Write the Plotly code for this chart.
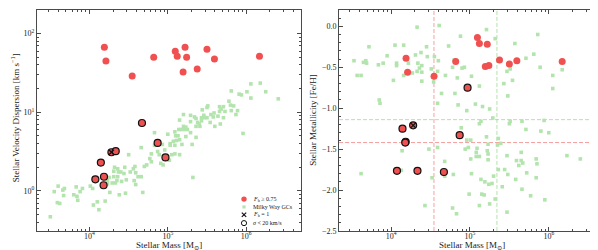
import numpy as np
import plotly.graph_objects as go

# ---------------- DATA ----------------
# Milky Way GCs: stellar mass vs velocity dispersion (log10 values)
gc_sig_logM = [5.81, 6.01, 6.18, 6.06, 6.25, 6.41, 5.91, 5.94, 6.06, 5.78, 5.80, 5.84, 5.89, 5.87, 5.81,
               5.71, 5.66, 5.68, 5.66, 5.73, 5.64, 5.71, 5.67, 5.60, 5.96, 5.59, 5.51, 5.50, 5.44, 5.55,
               5.58, 5.54, 5.50, 5.46, 5.47, 5.43, 5.43, 5.36, 5.38, 5.40, 5.41, 5.36, 5.34, 5.29, 5.20,
               5.29, 5.15, 5.20, 5.23, 5.25, 5.21, 5.29, 5.17, 5.14, 5.09, 5.10, 5.13, 5.23, 5.36, 5.11,
               5.15, 5.07, 5.03, 5.18, 5.31, 5.09, 4.83, 5.00, 4.66, 4.83, 4.93, 4.96, 5.03, 4.79, 4.87,
               4.89, 4.98, 5.05, 5.09, 5.15, 5.02, 4.91, 4.94, 4.77, 4.79, 4.50, 4.73, 4.70, 4.58, 4.56,
               4.45, 4.36, 4.37, 4.32, 4.31, 4.31, 4.36, 4.40, 4.44, 4.52, 4.59, 4.62, 4.57, 4.66, 4.59,
               4.47, 4.41, 4.35, 4.23, 4.23, 4.46, 4.38, 4.68, 4.26, 4.20, 4.10, 4.05, 4.12, 4.04, 4.01,
               3.91, 3.88, 3.83, 3.84, 3.85, 3.80, 3.68, 3.66, 3.60, 3.55, 3.59, 3.62, 3.50, 5.32, 3.67,
               4.25, 4.29, 4.33]
gc_log_sigma = [1.27, 1.26, 1.37, 1.36, 1.26, 1.17, 1.23, 1.22, 1.18, 1.14, 1.09, 1.08, 1.02, 0.97, 1.02,
                1.07, 1.07, 1.04, 1.01, 1.01, 0.95, 0.93, 0.85, 0.82, 0.73, 0.99, 1.08, 1.06, 1.03, 0.97,
                0.94, 0.87, 0.93, 0.96, 0.93, 0.93, 0.89, 0.92, 0.87, 0.85, 0.82, 0.82, 0.94, 0.96, 0.97,
                0.88, 0.90, 0.82, 0.81, 0.78, 0.78, 0.74, 0.78, 0.78, 0.75, 0.70, 0.70, 0.69, 0.68, 0.64,
                0.65, 0.63, 0.60, 0.59, 0.59, 0.58, 0.74, 0.72, 0.55, 0.58, 0.59, 0.52, 0.58, 0.47, 0.50,
                0.46, 0.44, 0.46, 0.47, 0.46, 0.39, 0.35, 0.33, 0.41, 0.37, 0.46, 0.33, 0.31, 0.31, 0.28,
                0.30, 0.28, 0.24, 0.30, 0.25, 0.18, 0.18, 0.24, 0.22, 0.24, 0.23, 0.18, 0.13, 0.18, 0.08,
                0.14, 0.12, 0.13, 0.13, 0.09, -0.03, -0.05, -0.02, -0.02, -0.13, -0.14, -0.18, -0.24, 0.03, 0.06,
                0.03, -0.01, 0.05, -0.07, -0.12, -0.05, 0.03, 0.01, 0.06, -0.01, -0.15, -0.16, -0.33, 0.17, -0.06,
                0.17, 0.10, 0.10]

# Milky Way GCs: stellar mass vs metallicity
gc_feh_logM = [3.53, 3.57, 3.62, 3.65, 3.68, 3.69, 3.72, 3.84, 3.90, 3.95, 4.03, 4.05, 4.07, 4.07, 3.85,
               3.86, 4.16, 4.16, 4.22, 4.27, 4.31, 4.33, 4.34, 4.36, 4.38, 4.39, 4.33, 4.39, 4.39, 4.45,
               4.46, 4.51, 4.54, 4.55, 4.60, 4.59, 4.61, 4.64, 4.59, 4.69, 4.73, 4.78, 4.80, 4.81, 4.84,
               4.85, 4.88, 4.90, 4.93, 4.96, 5.02, 5.21, 5.32, 5.57, 5.86, 5.71, 5.81, 5.51, 5.47, 5.54,
               5.43, 5.12, 5.48, 5.89, 6.05, 6.17, 6.05, 5.07, 5.16, 5.25, 5.29, 5.14, 5.12, 5.51, 5.50,
               5.66, 5.94, 4.89, 3.62, 4.14, 4.13, 4.43, 4.48, 4.52, 4.59, 4.68, 4.68, 4.79, 4.78, 4.83,
               4.96, 5.01, 4.94, 4.98, 5.01, 5.02, 4.99, 5.71, 5.90, 6.00, 5.21, 5.23, 5.36, 5.35, 5.39,
               5.09, 5.08, 5.08, 5.12, 5.22, 5.23, 5.23, 5.47, 5.59, 5.62, 5.65, 5.65, 5.67, 5.84, 5.85,
               6.23, 6.40, 5.36, 5.44, 5.48, 5.72, 5.84, 5.14, 5.19, 5.24, 5.28, 5.30, 5.41, 5.58, 5.66,
               5.77, 5.95, 5.32, 5.15, 5.18, 5.12, 5.25, 5.47]
gc_feh = [-0.42, -0.60, -0.60, -0.44, -0.42, -0.45, -0.25, -0.47, -0.45, -0.36, -0.66, -0.23, -0.45, -0.48, -0.90,
          -0.94, -0.23, -0.60, -0.45, -0.57, -0.35, -0.01, -0.45, -0.51, -0.32, -0.48, -0.55, -0.56, -0.67, -0.25,
          -0.37, -0.52, -0.68, -0.37, -0.42, -0.55, 0.01, -0.82, -0.94, -0.60, -0.24, -0.50, -0.41, -0.82, -0.63,
          -0.96, -0.12, -0.51, -0.50, -1.03, -0.61, -0.04, -0.15, -0.21, -0.10, -0.39, -0.34, -0.52, -0.55, -0.66,
          -0.70, -0.73, -0.85, -0.50, -0.60, -0.53, -0.76, -0.95, -0.98, -1.01, -1.12, -1.16, -1.19, -1.16, -1.19,
          -1.16, -1.15, -1.24, -1.80, -1.52, -1.76, -2.19, -1.50, -1.85, -1.48, -1.65, -1.83, -1.81, -2.22, -2.29,
          -1.39, -1.39, -1.50, -1.48, -1.62, -1.80, -2.05, -1.26, -1.28, -1.30, -1.35, -1.44, -1.37, -1.45, -1.43,
          -1.49, -1.54, -1.59, -1.59, -1.52, -1.56, -1.63, -1.58, -1.64, -1.70, -1.64, -1.54, -1.67, -1.62, -1.68,
          -1.58, -1.62, -1.75, -1.75, -1.81, -1.79, -1.85, -1.87, -1.90, -1.93, -1.92, -1.83, -1.96, -1.87, -1.99,
          -2.07, -2.12, -2.11, -2.05, -2.06, -2.19, -2.17, -2.27]

# Systems with F_b >= 0.75 (sigma >= 20 km/s)
fb_logM = [4.19, 4.21, 4.545, 4.82, 5.095, 5.12, 5.195, 5.22, 5.24, 5.375, 5.50, 5.595, 6.17]
fb_log_sigma = [1.825, 1.65, 1.46, 1.70, 1.775, 1.71, 1.51, 1.825, 1.70, 1.55, 1.80, 1.675, 1.71]
fb_feh = [-0.39, -0.56, -0.61, -0.43, -0.135, -0.21, -0.49, -0.22, -0.48, -0.41, -0.46, -0.42, -0.43]

# Systems with F_b >= 0.75 and sigma < 20 km/s (outlined); F_b = 1 flag
low_logM = [4.67, 4.87, 4.97, 4.145, 4.28, 4.335, 4.075, 4.185, 4.18]
low_log_sigma = [0.8625, 0.609, 0.425, 0.359, 0.491, 0.504, 0.146, 0.179, 0.071]
low_feh = [-1.78, -1.33, -0.75, -1.25, -1.21, -1.765, -1.765, -1.41, -1.42]
low_fb_is_1 = [False, False, False, False, True, False, False, False, False]

# Reference (median) lines in the metallicity panel
ref_mass_red, ref_mass_green = 3.5e4, 2.2e5
ref_feh_red, ref_feh_green = -1.42, -1.14

# Tick labels
x_tickvals = [1e4, 1e5, 1e6]
x_ticktext = ["10<sup>4</sup>", "10<sup>5</sup>", "10<sup>6</sup>"]
y1_tickvals = [1, 10, 100]
y1_ticktext = ["10<sup>0</sup>", "10<sup>1</sup>", "10<sup>2</sup>"]

legend_labels = ["<i>F</i><sub>b</sub> ≥ 0.75", "Milky Way GCs", "<i>F</i><sub>b</sub> = 1",
                 "<i>σ</i> &lt; 20 km/s"]

# ---------------- FIGURE ----------------
W, H = 598, 250
def px(x):
    return x / W
def py(y):
    return 1 - y / H

FONT = "Liberation Serif, DejaVu Serif, serif"
RED = "#f05050"
GREEN = "#b3e4ad"
AX = "#4a4a4a"
TXT = "#1a1a1a"

p = lambda a: 10 ** np.array(a, dtype=float)

fig = go.Figure()

GC_MARK = dict(symbol="square", size=3.6, color=GREEN, line=dict(width=0))
RED_MARK = dict(symbol="circle", size=7, color=RED, line=dict(width=0))
LOW_MARK = dict(symbol="circle", size=7, color=RED, line=dict(width=1.2, color="#111"))
X_MARK = dict(symbol="x-thin", size=5, line=dict(width=1.3, color="#111"))

xm = [m for m, f in zip(low_logM, low_fb_is_1) if f]
xs = [s for s, f in zip(low_log_sigma, low_fb_is_1) if f]
xf = [s for s, f in zip(low_feh, low_fb_is_1) if f]

# ---- left panel ----
for xx, yy, mk in [(gc_sig_logM, gc_log_sigma, GC_MARK), (fb_logM, fb_log_sigma, RED_MARK),
                   (low_logM, low_log_sigma, LOW_MARK), (xm, xs, X_MARK)]:
    fig.add_trace(go.Scatter(x=p(xx), y=p(yy), mode="markers", marker=mk,
                             xaxis="x", yaxis="y", showlegend=False, hoverinfo="skip"))
# ---- right panel ----
for xx, yy, mk in [(gc_feh_logM, gc_feh, GC_MARK), (fb_logM, fb_feh, RED_MARK),
                   (low_logM, low_feh, LOW_MARK), (xm, xf, X_MARK)]:
    fig.add_trace(go.Scatter(x=p(xx), y=yy, mode="markers", marker=mk,
                             xaxis="x2", yaxis="y2", showlegend=False, hoverinfo="skip"))

minor_log_x = [k * 10 ** d for d in range(3, 7) for k in range(2, 10)]
minor_log_y = [k * 10 ** d for d in range(-1, 3) for k in range(2, 10)]

def ax(**kw):
    d = dict(showline=True, linecolor=AX, linewidth=1, mirror="allticks", ticks="inside",
             ticklen=4, tickwidth=0.8, tickcolor=AX, showgrid=False, zeroline=False,
             tickfont=dict(family=FONT, size=8, color=TXT))
    d.update(kw)
    return d

minor_log = lambda vals: dict(ticks="inside", ticklen=2, tickwidth=0.6, tickcolor=AX,
                              tickvals=vals, showgrid=False)

ybot, ytop = py(227.5), py(2)
fig.update_layout(
    width=W, height=H, margin=dict(l=0, r=0, t=0, b=0),
    paper_bgcolor="white", plot_bgcolor="white", showlegend=False,
    xaxis=ax(type="log", range=[3.33, 6.70], domain=[px(29), px(293)], anchor="y",
             tickvals=x_tickvals, ticktext=x_ticktext, minor=minor_log(minor_log_x),
             ticklabelstandoff=-3),
    yaxis=ax(type="log", range=[-0.51, 2.30], domain=[ybot, ytop], anchor="x",
             tickvals=y1_tickvals, ticktext=y1_ticktext, minor=minor_log(minor_log_y)),
    xaxis2=ax(type="log", range=[3.34, 6.70], domain=[px(331), px(596)], anchor="y2",
              tickvals=x_tickvals, ticktext=x_ticktext, minor=minor_log(minor_log_x),
              ticklabelstandoff=-3),
    yaxis2=ax(range=[-2.5, 0.2], domain=[ybot, ytop], anchor="x2", dtick=0.5, tick0=0,
              tickformat=".1f",
              minor=dict(ticks="inside", ticklen=2, tickwidth=0.6, tickcolor=AX, dtick=0.1,
                         showgrid=False)),
)

# reference dashed lines
dash = "4px,2px"
fig.add_shape(type="line", xref="x2", yref="y2 domain", x0=ref_mass_red, x1=ref_mass_red, y0=0, y1=1,
              line=dict(color="rgba(240,80,80,0.55)", width=1, dash=dash), layer="below")
fig.add_shape(type="line", xref="x2", yref="y2 domain", x0=ref_mass_green, x1=ref_mass_green, y0=0, y1=1,
              line=dict(color="rgba(150,215,140,0.7)", width=1, dash=dash), layer="below")
fig.add_shape(type="line", xref="x2 domain", yref="y2", x0=0, x1=1, y0=ref_feh_red, y1=ref_feh_red,
              line=dict(color="rgba(240,80,80,0.55)", width=1, dash=dash), layer="below")
fig.add_shape(type="line", xref="x2 domain", yref="y2", x0=0, x1=1, y0=ref_feh_green, y1=ref_feh_green,
              line=dict(color="rgba(150,215,140,0.7)", width=1, dash=dash), layer="below")

# axis titles
tf = dict(family=FONT, size=9, color=TXT)
fig.add_annotation(text="Stellar Mass [M<sub>⊙</sub>]", x=px(161), y=py(242), xref="paper", yref="paper",
                   showarrow=False, font=tf, xanchor="center", yanchor="middle")
fig.add_annotation(text="Stellar Mass [M<sub>⊙</sub>]", x=px(463.5), y=py(242), xref="paper", yref="paper",
                   showarrow=False, font=tf, xanchor="center", yanchor="middle")
fig.add_annotation(text="Stellar Velocity Dispersion [km s<sup>−1</sup>]", x=px(6.5), y=py(112),
                   xref="paper", yref="paper", showarrow=False, font=tf, textangle=-90,
                   xanchor="center", yanchor="middle")
fig.add_annotation(text="Stellar Metallicity [Fe/H]", x=px(305), y=py(115),
                   xref="paper", yref="paper", showarrow=False, font=tf, textangle=-90,
                   xanchor="center", yanchor="middle")

# manual legend (left panel, lower right)
rows = [195, 203, 211, 219.5]
kx = 236
lf = dict(family=FONT, size=6, color=TXT)
for lab, ry in zip(legend_labels, rows):
    fig.add_annotation(text=lab, x=px(243), y=py(ry), xref="paper", yref="paper", showarrow=False,
                       font=lf, xanchor="left", yanchor="middle")
r = 2.7
fig.add_shape(type="circle", xref="paper", yref="paper", x0=px(kx - r), x1=px(kx + r),
              y0=py(rows[0] + r), y1=py(rows[0] - r), fillcolor=RED, line=dict(width=0))
s = 1.6
fig.add_shape(type="rect", xref="paper", yref="paper", x0=px(kx - s), x1=px(kx + s),
              y0=py(rows[1] + s), y1=py(rows[1] - s), fillcolor=GREEN, line=dict(width=0))
c = 2.2
fig.add_shape(type="line", xref="paper", yref="paper", x0=px(kx - c), x1=px(kx + c),
              y0=py(rows[2] + c), y1=py(rows[2] - c), line=dict(color="#111", width=1.2))
fig.add_shape(type="line", xref="paper", yref="paper", x0=px(kx - c), x1=px(kx + c),
              y0=py(rows[2] - c), y1=py(rows[2] + c), line=dict(color="#111", width=1.2))
fig.add_shape(type="circle", xref="paper", yref="paper", x0=px(kx - 2.6), x1=px(kx + 2.6),
              y0=py(rows[3] + 2.6), y1=py(rows[3] - 2.6), fillcolor="rgba(0,0,0,0)",
              line=dict(color="#111", width=1))

fig.write_html("out.html")
